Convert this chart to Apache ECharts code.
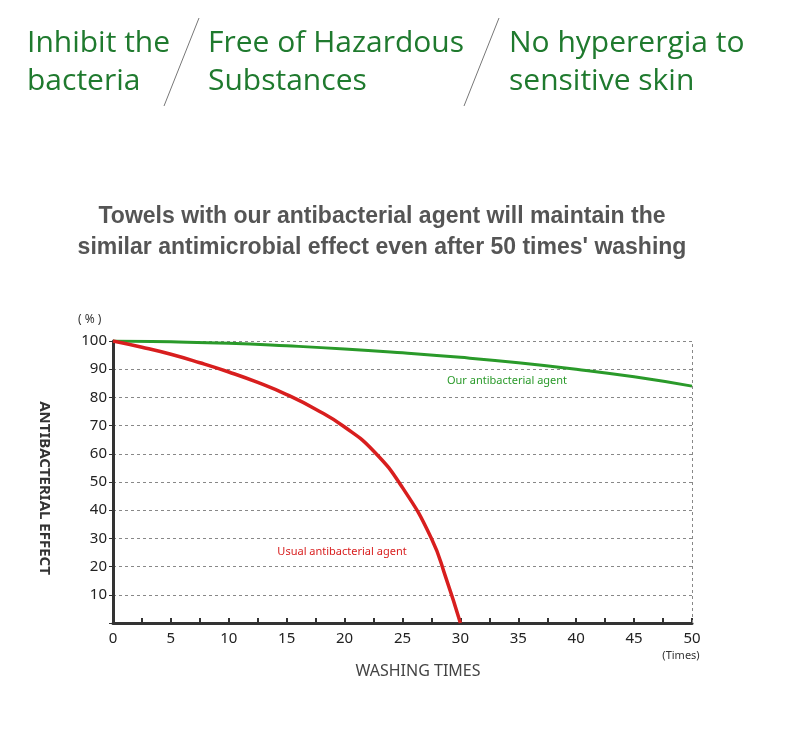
<!DOCTYPE html><html><head><meta charset="utf-8"><script src="https://cdn.jsdelivr.net/npm/echarts@6/dist/echarts.min.js"></script>
<style>body{margin:0;background:#fff}#c{width:790px;height:749px}</style></head><body><div id="c"></div><script>
const usualX=[0,2.5,5,7.5,10,12.5,15,17.5,20,22.5,25,27.5,28.75,30];
const usualY=[100,97.8,95.3,92.3,89,85.3,81,75.8,69.5,61,48,30,16,0];
const oursX=[0,5,10,15,20,25,30,35,40,45,50];
const oursY=[100,99.7,99.2,98.3,97.2,95.8,94.2,92.3,90,87.3,84];
const c=echarts.init(document.getElementById('c'));
const green='#1f7a2e';
const grid={left:113,right:98,top:341,bottom:126};
c.setOption({animation:false,
grid,
xAxis:{type:'value',min:0,max:50,interval:2.5,
 axisLine:{lineStyle:{color:'#333',width:3}},
 axisTick:{lineStyle:{color:'#333',width:2},length:5,inside:true},
 axisLabel:{color:'#222',fontSize:15,fontFamily:'Noto Sans',margin:8,formatter:v=>v%5===0?String(v):''},
 splitLine:{show:false}},
yAxis:{type:'value',min:0,max:100,interval:10,
 axisLine:{show:true,lineStyle:{color:'#333',width:3}},
 axisTick:{show:true,length:4,lineStyle:{color:'#333'}},
 axisLabel:{color:'#222',fontSize:15,fontFamily:'Noto Sans',margin:6,formatter:v=>v===0?'':String(v)},
 splitLine:{lineStyle:{color:'#888',type:[3,3],width:1}}},
series:[
 {type:'line',data:oursX.map((x,i)=>[x,oursY[i]]),smooth:true,symbol:'none',lineStyle:{color:'#2a9a2a',width:3},
  markLine:{silent:true,symbol:'none',label:{show:false},lineStyle:{color:'#888',type:[3,3],width:1},data:[{xAxis:50}]}},
 {type:'line',data:usualX.map((x,i)=>[x,usualY[i]]),smooth:true,symbol:'none',lineStyle:{color:'#d81e1e',width:3.5}}
],
graphic:[
 {type:'text',left:27,top:24,style:{text:'Inhibit the\nbacteria',fill:green,font:'30px "Open Sans"',lineHeight:38}},
 {type:'text',left:208,top:24,style:{text:'Free of Hazardous\nSubstances',fill:green,font:'30px "Open Sans"',lineHeight:38}},
 {type:'text',left:509,top:24,style:{text:'No hyperergia to\nsensitive skin',fill:green,font:'30px "Open Sans"',lineHeight:38}},
 {type:'line',shape:{x1:199,y1:18,x2:164,y2:106},style:{stroke:'#777',lineWidth:1}},
 {type:'line',shape:{x1:499,y1:18,x2:464,y2:106},style:{stroke:'#777',lineWidth:1}},
 {type:'text',x:382,y:232,style:{text:"Towels with our antibacterial agent will maintain the\nsimilar antimicrobial effect even after 50 times' washing",fill:'#555',font:'bold 23px "Liberation Sans"',align:'center',verticalAlign:'middle',lineHeight:31}},
 {type:'text',left:78,top:314,style:{text:'( % )',fill:'#333',font:'12px "Noto Sans"'}},
 {type:'text',x:44,y:488,rotation:-Math.PI/2,style:{text:'ANTIBACTERIAL EFFECT',fill:'#333',font:'bold 15px "Noto Sans"',align:'center',verticalAlign:'middle'}},
 {type:'text',x:418,y:671,style:{text:'WASHING TIMES',fill:'#444',font:'16px "Noto Sans"',align:'center',verticalAlign:'middle'}},
 {type:'text',x:681,y:656,style:{text:'(Times)',fill:'#333',font:'11px "Noto Sans"',align:'center',verticalAlign:'middle'}},
 {type:'text',x:507,y:381,style:{text:'Our antibacterial agent',fill:'#2a9a2a',font:'11px "Noto Sans"',align:'center',verticalAlign:'middle'}},
 {type:'text',x:342,y:552,style:{text:'Usual antibacterial agent',fill:'#d81e1e',font:'11px "Noto Sans"',align:'center',verticalAlign:'middle'}}
]});
</script></body></html>
